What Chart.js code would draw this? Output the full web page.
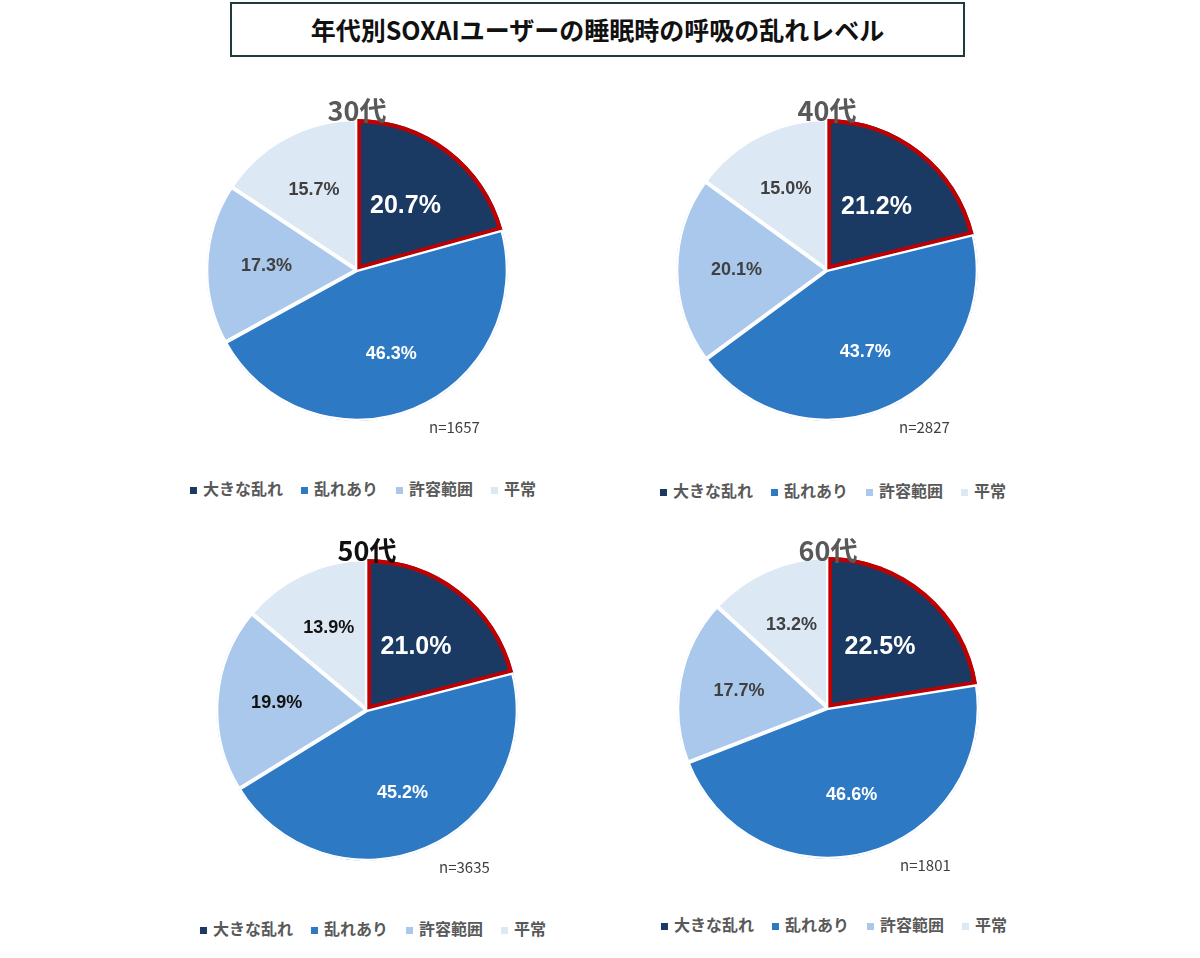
<!DOCTYPE html>
<html><head><meta charset="utf-8">
<script src="https://cdn.jsdelivr.net/npm/chart.js@4"></script>
<style>
body{margin:0;width:1200px;height:958px;background:#fff;position:relative;font-family:"Noto Sans CJK JP","Noto Sans",sans-serif;overflow:hidden}
#title{position:absolute;left:230px;top:2px;width:731px;height:51px;border:2px solid #1f3b3b;text-align:center;line-height:51px;font-size:25px;font-weight:bold;color:#111}
.box{position:absolute;width:310px;height:310px}
.age{position:absolute;font-size:27px;font-weight:bold;color:#595959;transform:translateX(-50%)}
.n{position:absolute;font-size:15px;color:#404040}
.leg{position:absolute;font-size:16px;font-weight:bold;color:#595959;white-space:nowrap;transform:translateX(-50%)}
.leg span{margin-right:18px}
.leg i{display:inline-block;width:7px;height:7px;margin-right:6px;vertical-align:middle}
</style></head><body>
<div id="title">年代別SOXAIユーザーの睡眠時の呼吸の乱れレベル</div>
<script>
// カテゴリと色
var categories = ['大きな乱れ','乱れあり','許容範囲','平常'];
var colors = ['#1b3a63','#2e79c4','#a9c8eb','#dde8f5'];
var ages = ['30代','40代','50代','60代'];
var counts = [1657, 2827, 3635, 1801];
var values30 = [20.7, 46.3, 17.3, 15.7];
var values40 = [21.2, 43.7, 20.1, 15.0];
var values50 = [21.0, 45.2, 19.9, 13.9];
var values60 = [22.5, 46.6, 17.7, 13.2];
var allValues = [values30, values40, values50, values60];

// 配置
var centers = [[357,270],[827,270],[367,710],[828,708]];
var ageTop = [90,90,530,530];
var legTop = [476,478,916,912];

var labelPlugin = {
  id:'labels',
  afterDatasetsDraw: function(chart){
    var ctx = chart.ctx;
    var meta = chart.getDatasetMeta(0);
    var black = chart.options.plugins.labels.black;
    meta.data.forEach(function(arc, i){
      var p = arc.getProps(['x','y','startAngle','endAngle','outerRadius']);
      var a = (p.startAngle + p.endAngle)/2;
      var f = i==0 ? 0.53 : 0.6;
      var x = p.x + Math.cos(a)*p.outerRadius*f;
      var y = p.y + Math.sin(a)*p.outerRadius*f;
      ctx.save();
      ctx.font = 'bold ' + (i==0 ? 25 : 18) + 'px "Liberation Sans", Arial, sans-serif';
      ctx.textAlign = 'center'; ctx.textBaseline = 'middle';
      ctx.fillStyle = i<2 ? '#fff' : (black ? '#111' : '#404040');
      ctx.fillText(chart.data.datasets[0].data[i].toFixed(1) + '%', x, y);
      ctx.restore();
    });
  }
};

for (var k=0; k<4; k++){
  var c = centers[k];
  var box = document.createElement('div');
  box.className='box'; box.style.left=(c[0]-155)+'px'; box.style.top=(c[1]-155)+'px';
  var cv = document.createElement('canvas'); box.appendChild(cv); document.body.appendChild(box);

  var t = document.createElement('div'); t.className='age'; t.textContent=ages[k];
  t.style.left=c[0]+'px'; t.style.top=ageTop[k]+'px';
  if(k==2) t.style.color='#111';
  document.body.appendChild(t);

  var n = document.createElement('div'); n.className='n'; n.textContent='n='+counts[k];
  n.style.left=(c[0]+72)+'px'; n.style.top=(c[1]+146)+'px';
  document.body.appendChild(n);

  var lg = document.createElement('div'); lg.className='leg';
  lg.innerHTML = categories.map(function(s,i){return '<span><i style="background:'+colors[i]+'"></i>'+s+'</span>';}).join('');
  lg.style.left=(c[0]+15)+'px'; lg.style.top=legTop[k]+'px';
  document.body.appendChild(lg);

  new Chart(cv, {
    type:'pie',
    data:{ labels:categories, datasets:[{
      data:allValues[k], backgroundColor:colors,
      borderColor:['#c00000','#fff','#fff','#fff'], borderWidth:[4,2,2,2], borderAlign:'inner'
    }]},
    options:{ responsive:true, maintainAspectRatio:false, animation:false,
      layout:{padding:4},
      plugins:{ legend:{display:false}, tooltip:{enabled:false}, labels:{black:k==2} } },
    plugins:[labelPlugin]
  });
}
</script>
</body></html>
